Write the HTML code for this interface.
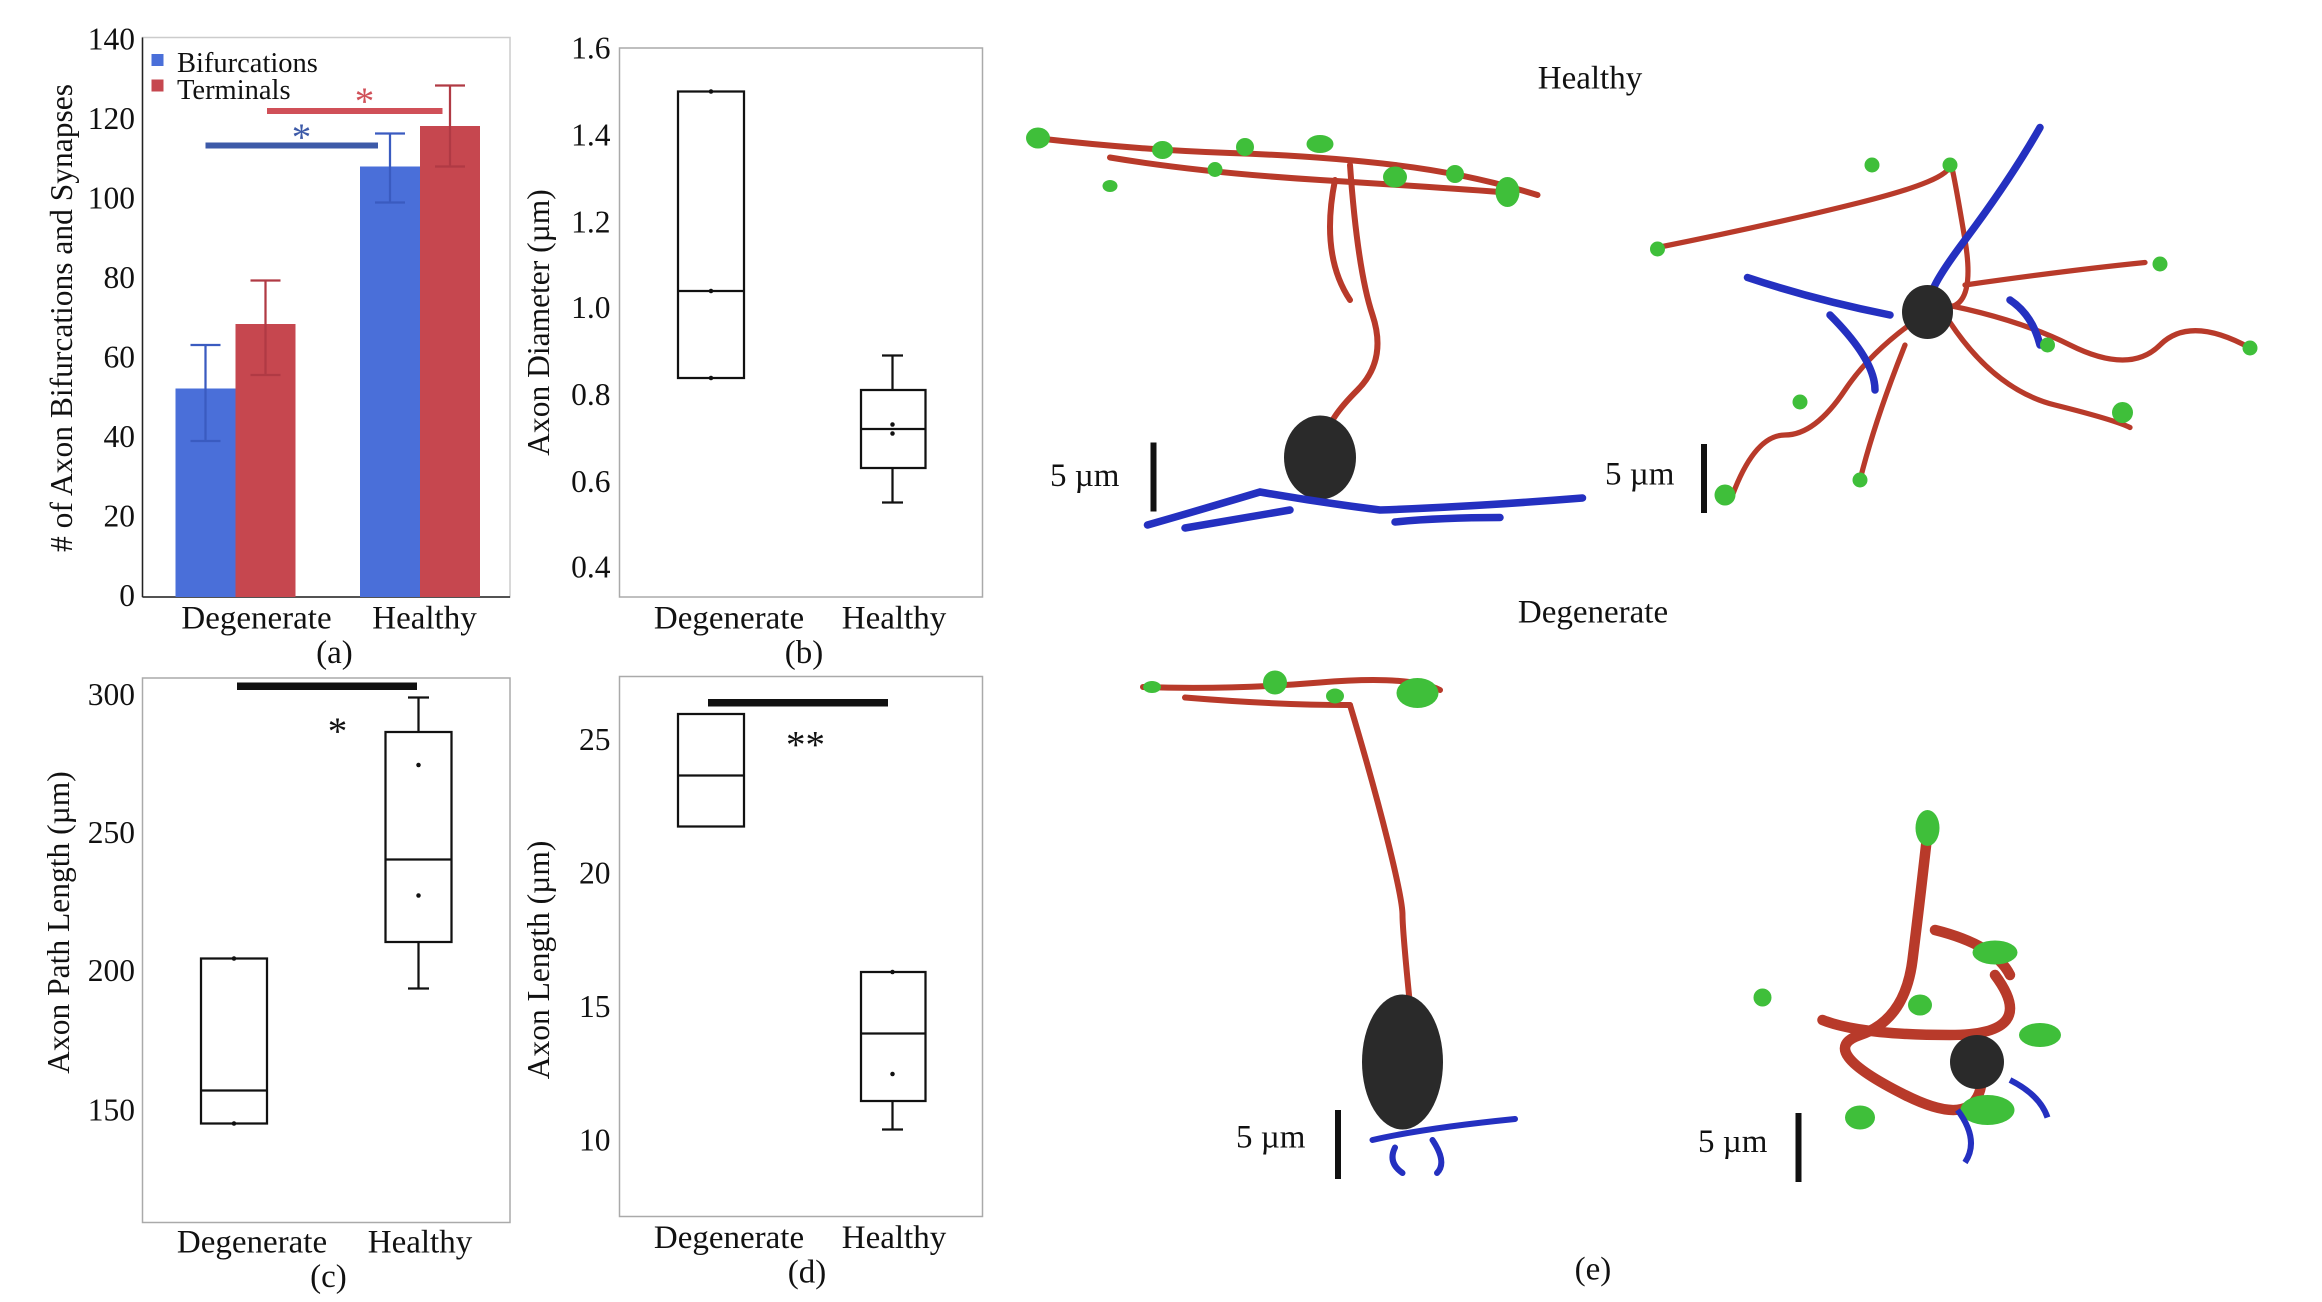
<!DOCTYPE html>
<html><head><meta charset="utf-8"><style>
html,body{margin:0;padding:0;background:#fff;}
svg{display:block;}
text{font-family:"Liberation Serif",serif;fill:#111;}
</style></head><body>
<svg width="2322" height="1302" viewBox="0 0 1548 868" xmlns="http://www.w3.org/2000/svg">
<!-- Panel a -->
<g>
<rect x="95" y="25" width="245" height="373" fill="none" stroke="#ccc" stroke-width="1"/>
<line x1="95" y1="25" x2="95" y2="398" stroke="#222"/>
<line x1="95" y1="398" x2="340" y2="398" stroke="#222"/>
<g font-size="21" text-anchor="end">
<text x="90" y="404">0</text><text x="90" y="351">20</text><text x="90" y="298">40</text>
<text x="90" y="245">60</text><text x="90" y="192">80</text><text x="90" y="139">100</text>
<text x="90" y="86">120</text><text x="90" y="33">140</text></g>
<text transform="translate(48,212) rotate(-90)" font-size="21" text-anchor="middle"># of Axon Bifurcations and Synapses</text>
<rect x="117" y="259" width="40" height="139" fill="#4a6fd9"/>
<rect x="157" y="216" width="40" height="182" fill="#c6474f"/>
<rect x="240" y="111" width="40" height="287" fill="#4a6fd9"/>
<rect x="280" y="84" width="40" height="314" fill="#c6474f"/>
<g stroke="#3a5bc0" stroke-width="1.5" fill="none">
<path d="M137 230V294M127 230H147M127 294H147"/>
<path d="M260 89V135M250 89H270M250 135H270"/></g>
<g stroke="#b03a44" stroke-width="1.5" fill="none">
<path d="M177 187V250M167 187H187M167 250H187"/>
<path d="M300 57V111M290 57H310M290 111H310"/></g>
<rect x="101" y="36" width="8" height="8" fill="#4a6fd9"/>
<rect x="101" y="53" width="8" height="8" fill="#c6474f"/>
<text x="118" y="48" font-size="19">Bifurcations</text>
<text x="118" y="66" font-size="19">Terminals</text>
<rect x="178" y="72" width="117" height="4" fill="#d05058"/>
<rect x="137" y="95" width="115" height="4" fill="#3d5aa8"/>
<text x="243" y="76" font-size="26" text-anchor="middle" style="fill:#d05058">*</text>
<text x="201" y="100" font-size="26" text-anchor="middle" style="fill:#3d5aa8">*</text>
<text x="171" y="419" font-size="22" text-anchor="middle">Degenerate</text>
<text x="283" y="419" font-size="22" text-anchor="middle">Healthy</text>
<text x="223" y="442" font-size="22" text-anchor="middle">(a)</text>
</g>
<!-- Panel b -->
<g>
<rect x="413" y="32" width="242" height="366" fill="none" stroke="#aaa"/>
<g font-size="21" text-anchor="end">
<text x="407" y="39">1.6</text><text x="407" y="97">1.4</text><text x="407" y="155">1.2</text>
<text x="407" y="212">1.0</text><text x="407" y="270">0.8</text><text x="407" y="328">0.6</text>
<text x="407" y="385">0.4</text></g>
<text transform="translate(366,215) rotate(-90)" font-size="21" text-anchor="middle">Axon Diameter (µm)</text>
<g stroke="#111" stroke-width="1.5" fill="none">
<rect x="452" y="61" width="44" height="191"/><line x1="452" y1="194" x2="496" y2="194"/>
<rect x="574" y="260" width="43" height="52"/><line x1="574" y1="286" x2="617" y2="286"/>
<path d="M595 237V260M595 312V335M588 237H602M588 335H602"/></g>
<g fill="#111"><circle cx="474" cy="61" r="1.5"/><circle cx="474" cy="194" r="1.5"/><circle cx="474" cy="252" r="1.5"/>
<circle cx="595" cy="283" r="1.5"/><circle cx="595" cy="289" r="1.5"/></g>
<text x="486" y="419" font-size="22" text-anchor="middle">Degenerate</text>
<text x="596" y="419" font-size="22" text-anchor="middle">Healthy</text>
<text x="536" y="442" font-size="22" text-anchor="middle">(b)</text>
</g>
<!-- Panel c -->
<g>
<rect x="95" y="452" width="245" height="363" fill="none" stroke="#aaa"/>
<g font-size="21" text-anchor="end">
<text x="90" y="470">300</text><text x="90" y="562">250</text><text x="90" y="654">200</text><text x="90" y="747">150</text></g>
<text transform="translate(46,615) rotate(-90)" font-size="21" text-anchor="middle">Axon Path Length (µm)</text>
<rect x="158" y="455" width="120" height="5" fill="#111"/>
<text x="225" y="496" font-size="26" text-anchor="middle">*</text>
<g stroke="#111" stroke-width="1.5" fill="none">
<rect x="134" y="639" width="44" height="110"/><line x1="134" y1="727" x2="178" y2="727"/>
<rect x="257" y="488" width="44" height="140"/><line x1="257" y1="573" x2="301" y2="573"/>
<path d="M279 465V488M279 628V659M272 465H286M272 659H286"/></g>
<g fill="#111"><circle cx="279" cy="510" r="1.5"/><circle cx="279" cy="597" r="1.5"/><circle cx="156" cy="639" r="1.5"/><circle cx="156" cy="749" r="1.5"/></g>
<text x="168" y="835" font-size="22" text-anchor="middle">Degenerate</text>
<text x="280" y="835" font-size="22" text-anchor="middle">Healthy</text>
<text x="219" y="858" font-size="22" text-anchor="middle">(c)</text>
</g>
<!-- Panel d -->
<g>
<rect x="413" y="451" width="242" height="360" fill="none" stroke="#aaa"/>
<g font-size="21" text-anchor="end">
<text x="407" y="500">25</text><text x="407" y="589">20</text><text x="407" y="678">15</text><text x="407" y="767">10</text></g>
<text transform="translate(366,640) rotate(-90)" font-size="21" text-anchor="middle">Axon Length (µm)</text>
<rect x="472" y="466" width="120" height="5" fill="#111"/>
<text x="537" y="505" font-size="26" text-anchor="middle">**</text>
<g stroke="#111" stroke-width="1.5" fill="none">
<rect x="452" y="476" width="44" height="75"/><line x1="452" y1="517" x2="496" y2="517"/>
<rect x="574" y="648" width="43" height="86"/><line x1="574" y1="689" x2="617" y2="689"/>
<path d="M595 734V753M588 753H602"/></g>
<g fill="#111"><circle cx="595" cy="716" r="1.5"/><circle cx="595" cy="648" r="1.5"/></g>
<text x="486" y="832" font-size="22" text-anchor="middle">Degenerate</text>
<text x="596" y="832" font-size="22" text-anchor="middle">Healthy</text>
<text x="538" y="855" font-size="22" text-anchor="middle">(d)</text>
</g>
<!-- Panel e -->
<g font-size="22">
<text x="1060" y="59" text-anchor="middle">Healthy</text>
<text x="1062" y="415" text-anchor="middle">Degenerate</text>
<text x="1062" y="853" text-anchor="middle">(e)</text>
<text x="700" y="324">5 µm</text><rect x="767" y="295" width="4" height="46" fill="#111"/>
<text x="1070" y="323">5 µm</text><rect x="1134" y="296" width="4" height="46" fill="#111"/>
<text x="824" y="765">5 µm</text><rect x="890" y="740" width="4" height="46" fill="#111"/>
<text x="1132" y="768">5 µm</text><rect x="1197" y="742" width="4" height="46" fill="#111"/>
</g>
<!-- Healthy neuron 1 -->
<g fill="none" stroke="#b83a2a" stroke-width="4" stroke-linecap="round">
<path d="M690 92 Q760 100 820 102 T930 110 T1025 130"/>
<path d="M740 105 Q800 115 880 120 T1000 128"/>
<path d="M900 110 Q905 180 915 210 T905 260 T885 290"/>
<path d="M890 120 Q880 170 900 200"/>
</g>
<g fill="#3fbf3a"><ellipse cx="692" cy="92" rx="8" ry="7"/><ellipse cx="775" cy="100" rx="7" ry="6"/><ellipse cx="830" cy="98" rx="6" ry="6"/><ellipse cx="880" cy="96" rx="9" ry="6"/><ellipse cx="930" cy="118" rx="8" ry="7"/><ellipse cx="970" cy="116" rx="6" ry="6"/><ellipse cx="1005" cy="128" rx="8" ry="10"/><ellipse cx="810" cy="113" rx="5" ry="5"/><ellipse cx="740" cy="124" rx="5" ry="4"/></g>
<ellipse cx="880" cy="305" rx="24" ry="28" fill="#2a2a2a"/>
<g fill="none" stroke="#2430c0" stroke-width="5" stroke-linecap="round">
<path d="M765 350 Q800 340 840 328 Q880 335 920 340 Q980 338 1055 332"/>
<path d="M790 352 Q830 345 860 340 M930 348 Q960 345 1000 345"/></g>
<!-- Healthy neuron 2 -->
<g fill="none" stroke="#b83a2a" stroke-width="3.5" stroke-linecap="round">
<path d="M1105 165 Q1180 150 1240 135 T1300 110 T1310 160 T1280 200"/>
<path d="M1280 200 Q1340 210 1380 230 T1440 230 T1500 232"/>
<path d="M1290 205 Q1250 230 1230 260 T1190 290 T1155 330"/>
<path d="M1300 215 Q1330 260 1370 270 T1420 285"/>
<path d="M1270 230 Q1250 280 1240 320"/>
<path d="M1310 190 Q1380 180 1430 175"/>
</g>
<g fill="none" stroke="#2430c0" stroke-width="5" stroke-linecap="round">
<path d="M1360 85 Q1340 120 1310 160 T1290 200"/><path d="M1165 185 Q1210 200 1260 210"/><path d="M1220 210 Q1250 240 1250 260"/><path d="M1340 200 Q1355 210 1360 230"/></g>
<ellipse cx="1285" cy="208" rx="17" ry="18" fill="#2a2a2a"/>
<g fill="#3fbf3a"><circle cx="1105" cy="166" r="5"/><circle cx="1150" cy="330" r="7"/><circle cx="1415" cy="275" r="7"/><circle cx="1500" cy="232" r="5"/><circle cx="1440" cy="176" r="5"/><circle cx="1240" cy="320" r="5"/><circle cx="1200" cy="268" r="5"/><circle cx="1300" cy="110" r="5"/><circle cx="1248" cy="110" r="5"/><circle cx="1365" cy="230" r="5"/></g>
<!-- Degenerate neuron 1 -->
<g fill="none" stroke="#b83a2a" stroke-width="4" stroke-linecap="round">
<path d="M762 458 Q820 460 880 455 T960 460"/><path d="M790 465 Q850 470 900 470"/>
<path d="M900 470 Q915 520 925 560 T935 610 T940 670"/></g>
<g fill="#3fbf3a"><ellipse cx="850" cy="455" rx="8" ry="8"/><ellipse cx="945" cy="462" rx="14" ry="10"/><ellipse cx="890" cy="464" rx="6" ry="5"/><ellipse cx="768" cy="458" rx="6" ry="4"/></g>
<ellipse cx="935" cy="708" rx="27" ry="45" fill="#2a2a2a"/>
<g fill="none" stroke="#2430c0" stroke-width="4" stroke-linecap="round">
<path d="M915 760 Q950 752 1010 746"/><path d="M930 765 Q925 775 935 782"/><path d="M955 760 Q965 775 958 782"/></g>
<!-- Degenerate neuron 2 -->
<g fill="none" stroke="#b83a2a" stroke-width="7" stroke-linecap="round">
<path d="M1285 555 Q1280 600 1275 640 T1240 690 T1270 730 T1320 700"/>
<path d="M1215 680 Q1240 690 1300 690 T1330 650"/><path d="M1290 620 Q1330 630 1340 650"/></g>
<g fill="#3fbf3a"><ellipse cx="1285" cy="552" rx="8" ry="12"/><ellipse cx="1330" cy="635" rx="15" ry="8"/><ellipse cx="1360" cy="690" rx="14" ry="8"/><ellipse cx="1325" cy="740" rx="18" ry="10"/><ellipse cx="1240" cy="745" rx="10" ry="8"/><ellipse cx="1175" cy="665" rx="6" ry="6"/><ellipse cx="1280" cy="670" rx="8" ry="7"/></g>
<circle cx="1318" cy="708" r="18" fill="#2a2a2a"/>
<path d="M1305 740 Q1320 760 1310 775 M1340 720 Q1360 730 1365 745" stroke="#2430c0" stroke-width="4" fill="none"/>
</svg>
</body></html>
